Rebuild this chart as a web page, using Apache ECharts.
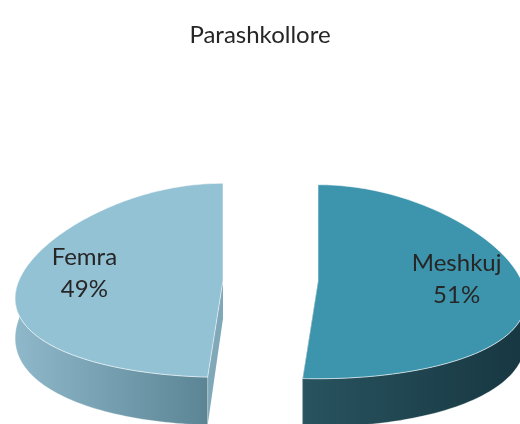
<!DOCTYPE html>
<html>
<head>
<meta charset="utf-8">
<script src="https://cdn.jsdelivr.net/npm/echarts@6/dist/echarts.min.js"></script>
<style>
  html, body { margin: 0; padding: 0; background: #fff; }
  #main { width: 520px; height: 424px; }
</style>
</head>
<body>
<div id="main"></div>
<script>
// data
const categories = ['Meshkuj', 'Femra']
const values = [51, 49]

// styles per slice: top, side light, side dark, cut face
const topColors = ['#3d95ad', '#93c2d5']
const sideColors = [['#28535f', '#173741'], ['#8fb9ca', '#5b8595']]
const faceColors = ['#1c3e49', '#80a8b8']

// 3d pie layout (k = perspective widening of the front half)
const cx = 270.5
const cy = 281
const rx = 204
const ry = 97
const k = 0.2
const explode = 47.5

const total = values.reduce((a, b) => a + b, 0)
const depthAt = a => 38 - 10 * Math.cos(a)

function renderItem (params, api) {
  const i = params.dataIndex
  let start = 0
  for (let j = 0; j < i; j++) start += values[j]
  const a0 = start / total * Math.PI * 2
  const a1 = (start + values[i]) / total * Math.PI * 2
  const mid = (a0 + a1) / 2
  const ox = cx + explode * Math.sin(mid)
  const oy = cy - explode * (ry / rx) * Math.cos(mid)
  const pt = (a, down) => [
    ox + rx * Math.sin(a) * (1 - k * Math.cos(a)),
    oy - ry * Math.cos(a) + (down ? depthAt(a) : 0)
  ]
  const children = []

  // cut faces
  ;[a0, a1].forEach(a => {
    const p = pt(a)
    const q = pt(a, true)
    children.push({
      type: 'polygon',
      shape: { points: [[ox, oy], p, q, [ox, oy + 38]] },
      style: { fill: faceColors[i] }
    })
  })

  // outer wall, front half only
  const lo = Math.max(a0, Math.PI / 2)
  const hi = Math.min(a1, Math.PI * 1.5)
  if (hi > lo) {
    const n = 60
    const upper = []
    const lower = []
    for (let s = 0; s <= n; s++) {
      const a = lo + (hi - lo) * s / n
      upper.push(pt(a))
      lower.unshift(pt(a, true))
    }
    children.push({
      type: 'polygon',
      shape: { points: upper.concat(lower) },
      style: {
        fill: new echarts.graphic.LinearGradient(0, 0, 1, 0, [
          { offset: 0, color: sideColors[i][0] },
          { offset: 1, color: sideColors[i][1] }
        ]),
        stroke: 'rgba(255,255,255,0.3)',
        lineWidth: 1
      }
    })
  }

  // top surface
  const top = [[ox, oy]]
  const m = 120
  for (let s = 0; s <= m; s++) top.push(pt(a0 + (a1 - a0) * s / m))
  children.push({
    type: 'polygon',
    shape: { points: top },
    style: { fill: topColors[i], stroke: 'rgba(255,255,255,0.55)', lineWidth: 1 }
  })

  // label
  const pct = Math.round(values[i] / total * 100)
  children.push({
    type: 'text',
    style: {
      text: categories[i] + '\n' + pct + '%',
      x: ox + rx * 0.68 * Math.sin(mid),
      y: oy - ry * 0.68 * Math.cos(mid) - 5,
      align: 'center',
      verticalAlign: 'middle',
      fill: '#262626',
      font: '24px Lato',
      lineHeight: 32
    }
  })

  return { type: 'group', children: children }
}

const myChart = echarts.init(document.getElementById('main'))
myChart.setOption({
  animation: false,
  title: {
    text: 'Parashkollore',
    left: 'center',
    top: 18,
    textStyle: { fontFamily: 'Lato', fontSize: 24, fontWeight: 'normal', color: '#262626' }
  },
  series: [{
    type: 'custom',
    coordinateSystem: 'none',
    renderItem: renderItem,
    data: values.map((v, i) => ({ name: categories[i], value: v }))
  }]
})
</script>
</body>
</html>
